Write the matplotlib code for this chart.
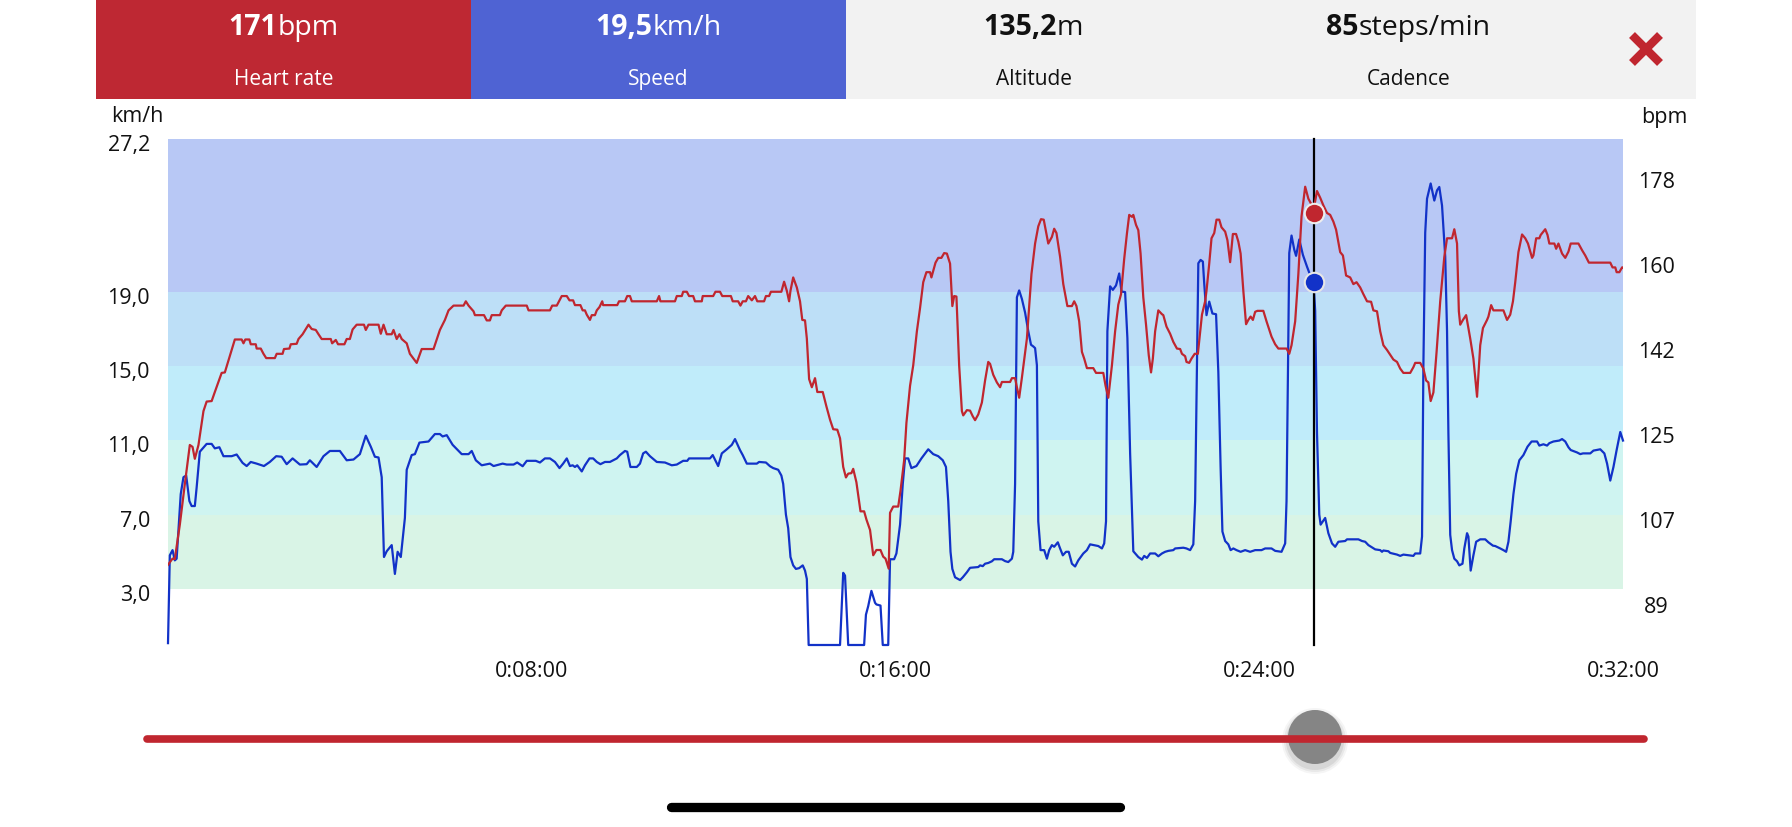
import matplotlib
matplotlib.use("Agg")
import matplotlib.pyplot as plt
import matplotlib.transforms as mtransforms
from matplotlib.patches import Rectangle, Circle

plt.rcParams['font.family'] = ['Open Sans', 'DejaVu Sans']

# --- data ---
# speed trace: minutes / km/h
speed_min = [
    0.00, 0.04, 0.10, 0.15, 0.19, 0.28, 0.34, 0.40, 0.47, 0.52, 0.59, 0.63, 0.70, 0.85, 0.96,
    1.03, 1.13, 1.22, 1.40, 1.51, 1.64, 1.73, 1.82, 1.95, 2.11, 2.24, 2.38, 2.50, 2.61, 2.74,
    2.90, 3.05, 3.12, 3.27, 3.42, 3.56, 3.78, 3.93, 4.08, 4.22, 4.35, 4.46, 4.55, 4.63, 4.70,
    4.75, 4.81, 4.92, 4.99, 5.05, 5.12, 5.21, 5.25, 5.36, 5.43, 5.53, 5.73, 5.87, 5.98, 6.04,
    6.13, 6.26, 6.46, 6.61, 6.68, 6.77, 6.90, 7.08, 7.16, 7.36, 7.45, 7.60, 7.68, 7.80, 7.89,
    8.09, 8.18, 8.29, 8.40, 8.51, 8.61, 8.69, 8.77, 8.84, 8.90, 8.95, 9.00, 9.10, 9.17, 9.27,
    9.35, 9.43, 9.51, 9.61, 9.72, 9.87, 9.94, 10.05, 10.10, 10.17, 10.31, 10.38, 10.45, 10.51,
    10.60, 10.75, 10.93, 11.08, 11.19, 11.33, 11.42, 11.46, 11.92, 11.98, 12.10, 12.18, 12.29,
    12.40, 12.47, 12.58, 12.64, 12.73, 12.95, 13.00, 13.15, 13.24, 13.31, 13.42, 13.49, 13.53,
    13.59, 13.64, 13.69, 13.75, 13.81, 13.88, 13.96, 14.01, 14.05, 14.09, 14.78, 14.85, 14.89,
    14.96, 15.31, 15.35, 15.40, 15.47, 15.55, 15.58, 15.67, 15.72, 15.84, 15.88, 15.97, 16.02,
    16.10, 16.16, 16.21, 16.28, 16.35, 16.46, 16.57, 16.72, 16.83, 16.94, 17.04, 17.11, 17.16,
    17.21, 17.25, 17.31, 17.42, 17.48, 17.57, 17.64, 17.82, 17.86, 17.92, 17.97, 18.04, 18.12,
    18.17, 18.34, 18.41, 18.48, 18.56, 18.59, 18.63, 18.67, 18.72, 18.78, 18.85, 18.92, 18.98,
    19.03, 19.07, 19.11, 19.14, 19.19, 19.27, 19.33, 19.38, 19.44, 19.49, 19.57, 19.62, 19.68,
    19.75, 19.81, 19.88, 19.95, 20.02, 20.13, 20.21, 20.28, 20.46, 20.54, 20.59, 20.63, 20.66,
    20.72, 20.78, 20.85, 20.92, 20.97, 21.05, 21.10, 21.16, 21.23, 21.34, 21.42, 21.47, 21.53,
    21.60, 21.71, 21.78, 21.86, 21.93, 22.00, 22.11, 22.15, 22.33, 22.40, 22.48, 22.55, 22.59,
    22.66, 22.71, 22.76, 22.79, 22.84, 22.90, 22.97, 23.05, 23.10, 23.15, 23.19, 23.25, 23.32,
    23.37, 23.43, 23.50, 23.59, 23.69, 23.80, 23.91, 24.05, 24.13, 24.27, 24.35, 24.49, 24.57,
    24.60, 24.66, 24.71, 24.77, 24.81, 24.88, 24.96, 25.01, 25.05, 25.12, 25.19, 25.23, 25.27,
    25.32, 25.35, 25.41, 25.45, 25.52, 25.60, 25.67, 25.74, 25.89, 25.93, 26.18, 26.26, 26.33,
    26.40, 26.55, 26.66, 26.70, 26.73, 26.84, 26.88, 27.03, 27.10, 27.17, 27.39, 27.43, 27.54,
    27.58, 27.61, 27.65, 27.69, 27.77, 27.85, 27.91, 27.96, 28.02, 28.09, 28.13, 28.16, 28.20,
    28.24, 28.29, 28.35, 28.40, 28.47, 28.51, 28.57, 28.60, 28.65, 28.71, 28.77, 28.86, 28.97,
    29.04, 29.14, 29.19, 29.30, 29.37, 29.43, 29.48, 29.53, 29.59, 29.65, 29.72, 29.81, 29.90,
    29.99, 30.11, 30.16, 30.25, 30.33, 30.38, 30.47, 30.60, 30.66, 30.73, 30.80, 30.85, 30.99,
    31.06, 31.12, 31.28, 31.35, 31.50, 31.59, 31.65, 31.72, 31.79, 31.86, 31.94, 32.00,
]
speed_kmh = [
    0.1, 4.82, 5.10, 4.55, 4.64, 8.11, 9.02, 9.11, 7.74, 7.47, 7.47, 8.47, 10.39, 10.81, 10.81,
    10.57, 10.63, 10.15, 10.15, 10.24, 9.79, 9.62, 9.84, 9.75, 9.62, 9.84, 10.15, 10.12, 9.72, 10.03,
    9.70, 9.72, 9.93, 9.57, 10.15, 10.43, 10.43, 9.93, 9.97, 10.26, 11.25, 10.66, 10.12, 10.08, 9.02,
    4.73, 5.04, 5.37, 3.82, 5.01, 4.73, 6.83, 9.42, 10.21, 10.26, 10.88, 10.94, 11.34, 11.34, 11.21,
    11.28, 10.76, 10.26, 10.26, 10.43, 9.93, 9.66, 9.75, 9.62, 9.75, 9.70, 9.70, 9.81, 9.61, 9.90,
    9.90, 9.81, 10.03, 10.03, 9.84, 9.51, 9.75, 10.03, 9.62, 9.66, 9.57, 9.66, 9.33, 9.66, 10.03,
    10.03, 9.84, 9.72, 9.84, 9.84, 10.03, 10.21, 10.43, 10.39, 9.57, 9.57, 9.75, 10.30, 10.39,
    10.15, 9.84, 9.81, 9.66, 9.70, 9.90, 9.90, 10.03, 10.03, 10.21, 9.62, 10.30, 10.52,
    10.76, 11.07, 10.48, 10.21, 9.75, 9.75, 9.84, 9.81, 9.61, 9.51, 9.42, 9.11, 8.66,
    7.01, 6.28, 4.73, 4.28, 4.09, 4.13, 4.28, 4.00, 3.55, 0.0, 0.0, 3.88, 3.73,
    0.0, 0.0, 1.63, 2.09, 2.91, 2.27, 2.18, 2.12, 0.0, 0.0, 4.61, 4.61, 4.92,
    6.47, 8.66, 10.03, 10.03, 9.51, 9.62, 10.03, 10.52, 10.26, 10.15, 9.93, 9.57, 7.74,
    5.01, 4.09, 3.64, 3.49, 3.64, 3.91, 4.15, 4.19, 4.28, 4.24, 4.37, 4.41, 4.50,
    4.61, 4.61, 4.51, 4.46, 4.64, 5.01, 8.66, 18.69, 19.06, 18.60, 17.87, 16.87, 16.14,
    16.05, 15.96, 15.04, 6.65, 5.10, 5.10, 4.64, 5.10, 5.37, 5.28, 5.52, 5.19, 4.82,
    5.01, 5.01, 4.37, 4.22, 4.55, 4.92, 5.10, 5.41, 5.32, 5.19, 5.46, 6.65, 16.87,
    19.28, 19.09, 19.33, 19.97, 19.00, 18.97, 16.50, 10.30, 5.04, 4.73, 4.59, 4.79, 4.68,
    4.92, 4.92, 4.77, 4.92, 5.01, 5.06, 5.10, 5.19, 5.23, 5.19, 5.10, 5.41, 7.74,
    20.52, 20.70, 20.61, 19.42, 17.73, 18.46, 17.82, 17.78, 14.68, 9.57, 6.10, 5.59, 5.41,
    5.10, 5.19, 5.10, 5.01, 5.10, 5.01, 5.10, 5.10, 5.19, 5.19, 5.06, 5.01, 5.46,
    7.74, 21.07, 22.01, 21.25, 20.92, 21.80, 20.97, 20.61, 20.34, 19.88, 19.61, 17.97, 11.40,
    7.01, 6.47, 6.69, 6.83, 6.01, 5.46, 5.28, 5.55, 5.59, 5.68, 5.68, 5.59, 5.55,
    5.37, 5.14, 5.10, 5.01, 5.08, 5.04, 4.95, 4.86, 4.79, 4.86, 4.79, 4.92, 4.92,
    5.83, 15.04, 22.16, 23.99, 24.81, 23.89, 24.44, 24.62, 23.62, 20.88, 16.87, 11.39, 5.92,
    5.10, 4.64, 4.50, 4.28, 4.37, 5.19, 6.01, 5.83, 4.00, 4.82, 5.55, 5.68, 5.68,
    5.52, 5.34, 5.32, 5.19, 5.10, 5.01, 5.55, 6.65, 8.11, 9.20, 9.93, 10.21, 10.66,
    10.94, 10.94, 10.72, 10.79, 10.72, 10.85, 10.94, 10.99, 11.07, 10.94, 10.63, 10.48, 10.35,
    10.26, 10.30, 10.30, 10.45, 10.52, 10.30, 9.75, 8.84, 9.57, 10.48, 11.45, 10.99,
]

# heart rate trace: minutes / bpm
hr_min = [
    0.00, 0.10, 0.15, 0.26, 0.37, 0.48, 0.54, 0.59, 0.67, 0.78, 0.85, 0.96, 1.03, 1.18, 1.25,
    1.47, 1.62, 1.66, 1.70, 1.79, 1.82, 1.93, 1.95, 2.04, 2.10, 2.16, 2.35, 2.39, 2.52, 2.55,
    2.67, 2.70, 2.83, 2.87, 2.96, 3.09, 3.16, 3.25, 3.31, 3.38, 3.58, 3.61, 3.69, 3.74, 3.88,
    3.93, 4.00, 4.06, 4.15, 4.31, 4.35, 4.41, 4.63, 4.68, 4.74, 4.81, 4.92, 4.96, 5.03, 5.09,
    5.14, 5.25, 5.32, 5.40, 5.47, 5.58, 5.84, 5.98, 6.09, 6.17, 6.28, 6.50, 6.55, 6.61, 6.72,
    6.75, 6.95, 7.01, 7.08, 7.12, 7.30, 7.34, 7.43, 7.89, 7.93, 8.40, 8.45, 8.55, 8.66, 8.77,
    8.83, 8.91, 8.95, 9.07, 9.12, 9.17, 9.21, 9.28, 9.32, 9.39, 9.43, 9.49, 9.55, 9.57, 9.88,
    9.92, 10.05, 10.10, 10.16, 10.20, 10.75, 10.80, 10.83, 11.15, 11.19, 11.30, 11.33, 11.41,
    11.46, 11.55, 11.59, 11.74, 11.76, 11.99, 12.04, 12.14, 12.19, 12.38, 12.42, 12.54, 12.59,
    12.64, 12.71, 12.76, 12.84, 12.91, 12.96, 13.11, 13.15, 13.22, 13.26, 13.49, 13.55, 13.61,
    13.66, 13.69, 13.75, 13.83, 13.90, 13.95, 14.01, 14.05, 14.10, 14.16, 14.23, 14.28, 14.40,
    14.48, 14.56, 14.63, 14.72, 14.78, 14.85, 14.91, 14.96, 15.03, 15.07, 15.14, 15.23, 15.31,
    15.36, 15.44, 15.51, 15.58, 15.67, 15.73, 15.78, 15.85, 15.88, 15.95, 16.06, 16.11, 16.19,
    16.24, 16.32, 16.39, 16.47, 16.54, 16.61, 16.68, 16.76, 16.79, 16.88, 16.94, 17.01, 17.07,
    17.13, 17.20, 17.25, 17.29, 17.34, 17.40, 17.46, 17.49, 17.57, 17.64, 17.70, 17.75, 17.82,
    17.90, 17.97, 18.04, 18.08, 18.15, 18.23, 18.30, 18.34, 18.52, 18.56, 18.63, 18.67, 18.72,
    18.78, 18.89, 18.99, 19.07, 19.14, 19.20, 19.26, 19.36, 19.44, 19.49, 19.54, 19.62, 19.69,
    19.78, 19.88, 19.93, 19.98, 20.04, 20.10, 20.15, 20.21, 20.35, 20.41, 20.57, 20.62, 20.68,
    20.76, 20.83, 20.90, 20.96, 21.03, 21.09, 21.14, 21.20, 21.23, 21.29, 21.34, 21.39, 21.45,
    21.51, 21.57, 21.62, 21.66, 21.71, 21.78, 21.86, 21.89, 21.96, 22.04, 22.11, 22.19, 22.26,
    22.30, 22.37, 22.40, 22.46, 22.51, 22.58, 22.65, 22.74, 22.81, 22.84, 22.90, 22.95, 23.01,
    23.06, 23.12, 23.17, 23.25, 23.30, 23.36, 23.42, 23.49, 23.54, 23.59, 23.65, 23.71, 23.76,
    23.81, 23.86, 23.91, 23.96, 24.09, 24.16, 24.27, 24.35, 24.42, 24.60, 24.66, 24.71, 24.79,
    24.86, 24.93, 25.01, 25.08, 25.20, 25.27, 25.34, 25.41, 25.49, 25.56, 25.63, 25.69, 25.78,
    25.84, 25.91, 26.00, 26.07, 26.14, 26.22, 26.29, 26.37, 26.46, 26.51, 26.59, 26.66, 26.73,
    26.81, 26.88, 26.95, 27.03, 27.10, 27.17, 27.32, 27.39, 27.43, 27.54, 27.61, 27.67, 27.72,
    27.77, 27.83, 27.90, 27.98, 28.07, 28.13, 28.24, 28.29, 28.35, 28.39, 28.42, 28.48, 28.55,
    28.64, 28.71, 28.79, 28.86, 28.92, 29.01, 29.04, 29.10, 29.15, 29.37, 29.45, 29.52, 29.58,
    29.63, 29.70, 29.78, 29.85, 29.91, 30.00, 30.03, 30.09, 30.16, 30.19, 30.29, 30.34, 30.38,
    30.49, 30.53, 30.58, 30.66, 30.73, 30.80, 30.85, 31.02, 31.10, 31.17, 31.25, 31.72, 31.77,
    31.83, 31.86, 31.92, 31.98, 32.00,
]
hr_bpm = [
    97.2, 98.5, 98.4, 105.6, 114.1, 122.3, 121.9, 119.4, 122.3, 129.4, 131.4, 131.5, 133.4, 137.4, 137.5,
    144.4, 144.4, 143.6, 144.4, 144.4, 143.4, 143.4, 142.5, 142.5, 141.4, 140.5, 140.5, 141.4, 141.4, 142.4,
    142.5, 143.4, 143.5, 144.5, 145.5, 147.5, 146.6, 146.4, 145.5, 144.5, 144.5, 143.6, 144.3, 143.4, 143.4,
    144.5, 144.5, 146.5, 147.5, 147.5, 146.4, 147.5, 147.5, 145.6, 147.5, 145.5, 145.5, 146.4, 144.5, 145.5,
    144.5, 143.6, 141.4, 140.4, 139.5, 142.4, 142.4, 146.4, 148.5, 150.5, 151.5, 151.5, 152.4, 151.5, 150.3,
    149.5, 149.5, 148.4, 148.4, 149.5, 149.5, 150.5, 151.5, 151.5, 150.5, 150.5, 151.5, 151.5, 153.5, 153.5,
    152.6, 152.6, 151.6, 151.6, 150.5, 150.5, 149.6, 148.5, 149.5, 149.5, 150.5, 151.2, 152.4, 151.6, 151.6,
    152.4, 152.4, 153.5, 153.5, 152.4, 152.4, 153.5, 152.4, 152.4, 153.5, 153.5, 154.4, 154.4,
    153.5, 153.5, 152.4, 152.4, 153.5, 153.5, 154.4, 154.4, 153.5, 153.5, 152.4, 152.4, 151.5,
    152.4, 152.4, 153.5, 152.6, 153.5, 152.4, 152.4, 153.5, 153.5, 154.4, 154.4, 156.5, 154.6,
    152.4, 154.6, 157.4, 155.3, 152.4, 148.5, 148.4, 144.6, 136.1, 134.4, 136.3, 133.4, 133.4,
    130.4, 127.6, 125.6, 125.5, 123.7, 117.7, 115.5, 116.3, 116.4, 117.3, 114.5, 108.4, 108.4,
    106.7, 104.5, 99.2, 100.3, 100.3, 98.9, 98.5, 96.4, 108.1, 109.4, 109.4, 112.7, 119.1,
    126.9, 134.7, 139.0, 146.1, 151.0, 156.4, 158.5, 158.5, 157.4, 160.5, 161.5, 161.5, 162.5,
    162.4, 160.3, 151.4, 153.5, 153.4, 139.0, 129.4, 128.5, 129.6, 129.5, 128.3, 127.5, 128.7,
    131.2, 135.8, 139.7, 139.3, 137.0, 135.4, 134.4, 135.5, 135.5, 136.3, 136.3, 134.4, 132.2,
    136.4, 144.6, 158.1, 164.5, 168.1, 169.6, 169.5, 164.5, 165.9, 167.6, 166.7, 161.7, 156.0,
    151.4, 151.4, 152.4, 151.4, 148.2, 141.8, 140.4, 138.4, 138.4, 137.4, 137.4, 134.7, 132.2,
    139.0, 146.1, 151.7, 153.9, 161.3, 166.6, 170.5, 170.1, 170.5, 168.4, 167.3, 162.4, 153.2,
    147.5, 141.1, 137.5, 140.4, 146.1, 150.5, 149.7, 149.5, 147.1, 145.6, 143.9, 142.5, 142.4,
    141.4, 140.9, 139.7, 139.5, 140.4, 141.4, 141.4, 149.6, 152.4, 154.6, 160.3, 165.6, 166.7,
    169.5, 169.5, 167.9, 167.0, 165.2, 160.6, 166.5, 166.5, 164.9, 162.4, 154.6, 147.6, 148.5,
    149.2, 148.5, 150.2, 150.4, 150.4, 148.2, 145.0, 143.4, 142.5, 142.5, 141.4, 143.2, 148.2,
    158.1, 170.2, 176.4, 173.9, 171.8, 175.5, 174.1, 172.5, 170.9, 170.5, 169.1, 167.4, 162.7,
    162.0, 157.8, 157.4, 156.0, 156.4, 155.3, 153.9, 152.4, 152.3, 150.5, 150.3, 146.1, 143.2,
    142.2, 141.2, 140.2, 139.7, 138.3, 137.4, 137.4, 138.6, 139.5, 139.5, 138.3, 135.8, 135.4,
    131.5, 133.3, 141.8, 152.4, 161.7, 165.6, 165.6, 167.5, 164.5, 150.3, 147.5, 148.5, 149.5,
    144.6, 140.4, 132.4, 143.2, 146.8, 148.5, 149.2, 151.6, 150.5, 150.5, 148.5, 149.6, 152.4,
    156.4, 162.7, 166.4, 165.6, 164.5, 161.5, 162.0, 165.6, 165.6, 166.3, 167.5, 166.3, 164.5,
    164.5, 163.4, 164.5, 162.4, 161.5, 162.8, 164.5, 164.5, 163.1, 162.0, 160.5, 160.5, 159.5,
    159.5, 158.5, 158.5, 159.5, 159.5,
]

# speed zones (km/h) and their band colours
zone_edges = [3.0, 7.0, 11.0, 15.0, 19.0, 27.2]
zone_colors = ["#d9f4e6", "#cff4f1", "#c0ecfa", "#bddff7", "#b8c8f5"]

speed_ticks = [3.0, 7.0, 11.0, 15.0, 19.0, 27.2]
speed_tick_labels = ["3,0", "7,0", "11,0", "15,0", "19,0", "27,2"]
hr_ticks = [89, 106.8, 124.6, 142.4, 160.2, 178]
hr_tick_labels = ["89", "107", "125", "142", "160", "178"]
time_ticks = [8, 16, 24, 32]
time_tick_labels = ["0:08:00", "0:16:00", "0:24:00", "0:32:00"]

cursor_min = 25.2
cursor_hr = 171
cursor_speed = 19.5

header_values = ["171", "19,5", "135,2", "85"]
header_units = ["bpm", "km/h", "m", "steps/min"]
header_names = ["Heart rate", "Speed", "Altitude", "Cadence"]

RED = "#be2833"
BLUE_BOX = "#4f63d3"
SPEED_LINE = "#1232c8"
HR_LINE = "#c0262f"

W, H = 1792, 828
fig = plt.figure(figsize=(W / 100, H / 100), dpi=100)

# --- main chart ---
x0, x1, y0, y1 = 168, 1623, 140, 646
ax = fig.add_axes([x0 / W, 1 - y1 / H, (x1 - x0) / W, (y1 - y0) / H])
ax.set_xlim(0, 32)
ax.set_ylim(0, 27.2)
for lo, hi, c in zip(zone_edges[:-1], zone_edges[1:], zone_colors):
    ax.axhspan(lo, hi, color=c, lw=0, zorder=0)
ax.plot(speed_min, speed_kmh, color=SPEED_LINE, lw=1.6, zorder=3, clip_on=False)
ax.axvline(cursor_min, ymin=0, ymax=1, color="black", lw=1.6, zorder=4, clip_on=False)
ax.plot(cursor_min, cursor_speed, "o", ms=14, mfc=SPEED_LINE, mec="#e6e6e6", mew=1.5,
        zorder=6, clip_on=False)

ax2 = ax.twinx()
ax2.set_ylim(80.4, 186.4)
ax2.plot(hr_min, hr_bpm, color=HR_LINE, lw=1.6, zorder=3)
ax2.plot(cursor_min, cursor_hr, "o", ms=14, mfc=HR_LINE, mec="#eeeeee", mew=1.5,
         zorder=6, clip_on=False)

for a in (ax, ax2):
    for s in a.spines.values():
        s.set_visible(False)

ax.set_xticks(time_ticks, time_tick_labels)
ax.set_yticks(speed_ticks, speed_tick_labels)
ax.tick_params(axis="x", length=0, pad=10.5, labelsize=15.5, colors="#111111")
ax.tick_params(axis="y", length=0, pad=13, labelsize=15.5, colors="#111111")
# the app draws the left labels a few pixels below their value
shift = mtransforms.ScaledTranslation(0, -3 / 100, fig.dpi_scale_trans)
for lab in ax.get_yticklabels():
    lab.set_transform(lab.get_transform() + shift)
ax2.set_yticks(hr_ticks, hr_tick_labels)
ax2.tick_params(axis="y", length=0, pad=24, labelsize=15.5, colors="#111111")
for lab in ax2.get_yticklabels():
    lab.set_horizontalalignment("center")

# --- overlay in pixel units for the app chrome ---
ov = fig.add_axes([0, 0, 1, 1])
ov.set_xlim(0, W)
ov.set_ylim(H, 0)
ov.axis("off")

ov.add_patch(Rectangle((96, 0), 375, 100, color=RED, lw=0))
ov.add_patch(Rectangle((471, 0), 375, 100, color=BLUE_BOX, lw=0))
ov.add_patch(Rectangle((846, 0), 850, 100, color="#f2f2f2", lw=0))

renderer = fig.canvas.get_renderer()
centers = [283.5, 658.5, 1033.5, 1408.5]
text_cols = ["white", "white", "#111111", "#111111"]
for cx, val, unit, name, tc in zip(centers, header_values, header_units, header_names, text_cols):
    t1 = ov.text(0, 35, val, fontsize=20.5, fontweight="bold", color=tc, va="baseline", ha="left")
    t2 = ov.text(0, 35, unit, fontsize=20.5, color=tc, va="baseline", ha="left")
    w1 = t1.get_window_extent(renderer).width
    w2 = t2.get_window_extent(renderer).width
    t1.set_x(cx - (w1 + w2) / 2)
    t2.set_x(cx - (w1 + w2) / 2 + w1)
    ov.text(cx, 85, name, fontsize=15, color=tc, va="baseline", ha="center")

# close icon
ov.plot([1632, 1660], [36, 64], color=HR_LINE, lw=6, solid_capstyle="butt")
ov.plot([1632, 1660], [64, 36], color=HR_LINE, lw=6, solid_capstyle="butt")

# axis unit labels
ov.text(137, 117, "km/h", fontsize=15.5, ha="center", va="center", color="#111111")
ov.text(1664, 117, "bpm", fontsize=15.5, ha="center", va="center", color="#111111")

# time slider
ov.plot([147, 1644], [740, 740], color=HR_LINE, lw=5.5, solid_capstyle="round")
for r, al in [(33, 0.04), (31, 0.05), (29, 0.07)]:
    ov.add_patch(Circle((1315, 742), r, color="black", alpha=al, lw=0))
ov.add_patch(Circle((1315, 738), 27, color="#858585", lw=0))

# home indicator
ov.plot([671, 1120], [808, 808], color="black", lw=6.7, solid_capstyle="round")

fig.savefig("out.png", dpi=100)
